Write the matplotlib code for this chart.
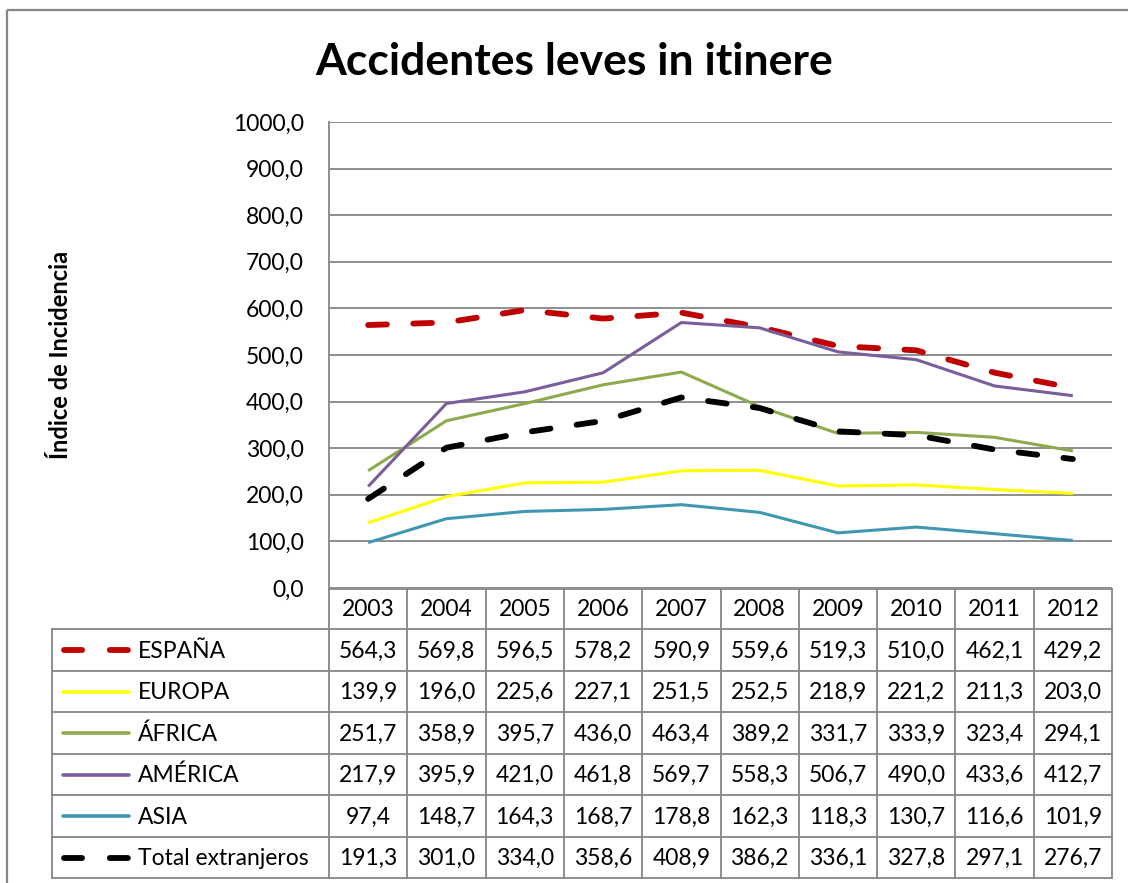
import matplotlib
matplotlib.use("Agg")
import matplotlib.pyplot as plt
from matplotlib.lines import Line2D
from matplotlib.patches import Rectangle

plt.rcParams['font.family'] = ['Lato', 'DejaVu Sans']
plt.rcParams['lines.scale_dashes'] = False

years = ["2003", "2004", "2005", "2006", "2007", "2008", "2009", "2010", "2011", "2012"]
series_names = ["ESPAÑA", "EUROPA", "ÁFRICA", "AMÉRICA", "ASIA", "Total extranjeros"]
espana = [564.3, 569.8, 596.5, 578.2, 590.9, 559.6, 519.3, 510.0, 462.1, 429.2]
europa = [139.9, 196.0, 225.6, 227.1, 251.5, 252.5, 218.9, 221.2, 211.3, 203.0]
africa = [251.7, 358.9, 395.7, 436.0, 463.4, 389.2, 331.7, 333.9, 323.4, 294.1]
america = [217.9, 395.9, 421.0, 461.8, 569.7, 558.3, 506.7, 490.0, 433.6, 412.7]
asia = [97.4, 148.7, 164.3, 168.7, 178.8, 162.3, 118.3, 130.7, 116.6, 101.9]
total_ext = [191.3, 301.0, 334.0, 358.6, 408.9, 386.2, 336.1, 327.8, 297.1, 276.7]
y_ticks = [0, 100, 200, 300, 400, 500, 600, 700, 800, 900, 1000]

W, H = 1128, 883
fig = plt.figure(figsize=(W / 100, H / 100), dpi=100)

# pixel-space overlay axes
bg = fig.add_axes([0, 0, 1, 1])
bg.set_xlim(0, W)
bg.set_ylim(H, 0)
bg.axis('off')

# plot area (pixels)
L, R, T, B = 329, 1112, 122, 588
ax = fig.add_axes([L / W, 1 - B / H, (R - L) / W, (B - T) / H])
n = len(years)
xs = list(range(n))
ax.set_xlim(-0.5, n - 0.5)
ax.set_ylim(0, 1000)
ax.set_yticks(y_ticks)
ax.set_yticklabels([f"{v:.1f}".replace('.', ',') for v in y_ticks], fontsize=16.5)
ax.tick_params(axis='y', length=0, pad=18)
ax.set_xticks([])
ax.grid(axis='y', color='#868686', linewidth=1.3)
ax.set_axisbelow(True)
for s in ['top', 'right', 'bottom']:
    ax.spines[s].set_visible(False)
ax.spines['left'].set_color('#868686')
ax.spines['left'].set_linewidth(1.3)

dash = (0, (13.5, 19))
styles = [
    dict(color='#C00000', lw=4.2, ls=dash),
    dict(color='#FFFF00', lw=2.2, ls='-'),
    dict(color='#8DAA4E', lw=2.2, ls='-'),
    dict(color='#7A5E9C', lw=2.2, ls='-'),
    dict(color='#3F98B0', lw=2.2, ls='-'),
    dict(color='#000000', lw=4.2, ls=dash),
]
data = [espana, europa, africa, america, asia, total_ext]
order = [1, 2, 3, 4, 5, 0]
for i in order:
    st = styles[i]
    ax.plot(xs, data[i], color=st['color'], linewidth=st['lw'], linestyle=st['ls'],
            dash_capstyle='round', solid_capstyle='butt', zorder=3 + i)

# title and y label
bg.text(574, 62, "Accidentes leves in itinere", ha='center', va='center',
        fontsize=32, fontweight='bold')
bg.text(60, 355, "Índice de Incidencia", ha='center', va='center', rotation=90,
        fontsize=17, fontweight='bold')

# outer border
bg.add_patch(Rectangle((7, 10), W, H, fill=False, edgecolor='#868686', lw=1.6))

# data table
gc = '#868686'
glw = 1.3
row_edges = [589, 629, 671, 712, 754, 795, 837, 878]
tl = 52
colw = (R - L) / n
col_edges = [L + k * colw for k in range(n + 1)]
bg.plot([L, R], [row_edges[0], row_edges[0]], color=gc, lw=glw)
for k in range(n + 1):
    bg.plot([col_edges[k], col_edges[k]], [row_edges[0], row_edges[-1]], color=gc, lw=glw)
bg.plot([tl, tl], [row_edges[1], row_edges[-1]], color=gc, lw=glw)
for r in row_edges[1:]:
    bg.plot([tl, R], [r, r], color=gc, lw=glw)
fs = 16.5
for k, yv in enumerate(years):
    bg.text((col_edges[k] + col_edges[k + 1]) / 2, (row_edges[0] + row_edges[1]) / 2 + 1,
            yv, ha='center', va='center', fontsize=fs)
for i, name in enumerate(series_names):
    yc = (row_edges[i + 1] + row_edges[i + 2]) / 2
    st = styles[i]
    if i in (0, 5):
        bg.add_line(Line2D([64, 128], [yc, yc], color=st['color'], lw=st['lw'],
                           linestyle=(0, (13, 20)), dash_capstyle='round'))
    else:
        bg.add_line(Line2D([63, 129], [yc, yc], color=st['color'], lw=2.6,
                           solid_capstyle='round'))
    bg.text(138, yc + 1, name, ha='left', va='center', fontsize=fs)
    for k, v in enumerate(data[i]):
        bg.text((col_edges[k] + col_edges[k + 1]) / 2, yc + 1,
                f"{v:.1f}".replace('.', ','), ha='center', va='center', fontsize=fs)

fig.savefig("out.png", dpi=100)
